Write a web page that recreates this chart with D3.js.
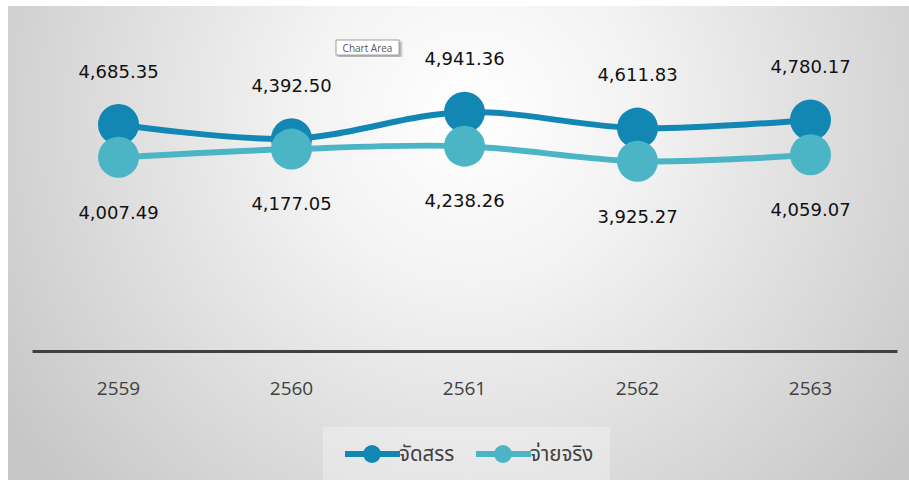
<!DOCTYPE html>
<meta charset="utf-8">
<style>
  body { margin: 0; background: #fff; }
  .lbl { font: 18px "DejaVu Sans", Tahoma, sans-serif; fill: #111; text-anchor: middle; }
  .tick-lbl { font: 19px "Open Sans", "Noto Sans", sans-serif; fill: #404040; text-anchor: middle; }
  .leg { font: 20.5px "Noto Sans Thai", Tahoma, "Noto Sans", sans-serif; fill: #404040; }
</style>
<svg width="909" height="480"></svg>
<script src="https://cdn.jsdelivr.net/npm/d3@7"></script>
<script>

var years = ["2559", "2560", "2561", "2562", "2563"];
var allocated = [4685.35, 4392.50, 4941.36, 4611.83, 4780.17];
var spent = [4007.49, 4177.05, 4238.26, 3925.27, 4059.07];
var seriesNames = ["จัดสรร", "จ่ายจริง"];
var seriesColors = ["#1287b4", "#4bb5c6"];

var svg = d3.select("svg");

// background gradient
var defs = svg.append("defs");
var grad = defs.append("radialGradient")
    .attr("id", "bg")
    .attr("gradientUnits", "userSpaceOnUse")
    .attr("cx", 470).attr("cy", 115).attr("r", 560);
grad.append("stop").attr("offset", "0").attr("stop-color", "#ffffff");
grad.append("stop").attr("offset", "0.3").attr("stop-color", "#f3f3f3");
grad.append("stop").attr("offset", "1").attr("stop-color", "#c6c6c6");

var shadow = defs.append("filter").attr("id", "sh");
shadow.append("feDropShadow").attr("dx", 2).attr("dy", 2).attr("stdDeviation", 1)
    .attr("flood-color", "#000").attr("flood-opacity", 0.35);

svg.append("rect")
    .attr("x", 8).attr("y", 6).attr("width", 901).attr("height", 474)
    .attr("fill", "url(#bg)");

var x = d3.scaleBand().domain(years).range([32, 897]).padding(0);
var y = d3.scaleLinear().domain([0, 6000]).range([351, 61]);
function cx(d) { return x(d) + x.bandwidth() / 2; }

// category axis
var axis = svg.append("g").attr("transform", "translate(0,351)")
    .call(d3.axisBottom(x).tickSize(0).tickPadding(0));
axis.select(".domain").attr("stroke", "#404040").attr("stroke-width", 3);
axis.selectAll(".tick text").attr("class", "tick-lbl").attr("font-size", null)
    .attr("font-family", null).attr("fill", null).attr("y", 44).attr("dy", 0);

var series = [allocated, spent];
var line = d3.line()
    .x(function(d, i) { return cx(years[i]); })
    .y(function(d) { return y(d); })
    .curve(d3.curveCatmullRom.alpha(0.5));

series.forEach(function(vals, s) {
    svg.append("path")
        .attr("d", line(vals))
        .attr("fill", "none")
        .attr("stroke", seriesColors[s])
        .attr("stroke-width", 6);
});

series.forEach(function(vals, s) {
    svg.append("g").selectAll("circle")
        .data(vals)
        .enter().append("circle")
        .attr("cx", function(d, i) { return cx(years[i]); })
        .attr("cy", function(d) { return y(d); })
        .attr("r", 20.5)
        .attr("fill", seriesColors[s]);
});

var fmt = d3.format(",.2f");
svg.append("g").selectAll("text")
    .data(allocated)
    .enter().append("text")
    .attr("class", "lbl")
    .attr("x", function(d, i) { return cx(years[i]); })
    .attr("y", function(d) { return y(d) - 53; })
    .attr("dy", "0.35em")
    .text(fmt);

svg.append("g").selectAll("text")
    .data(spent)
    .enter().append("text")
    .attr("class", "lbl")
    .attr("x", function(d, i) { return cx(years[i]); })
    .attr("y", function(d) { return y(d) + 55; })
    .attr("dy", "0.35em")
    .text(fmt);

// legend
var legend = svg.append("g");
legend.append("rect")
    .attr("x", 323).attr("y", 427).attr("width", 287).attr("height", 53)
    .attr("fill", "#fff").attr("fill-opacity", 0.3);
var legX = [345, 476];
seriesNames.forEach(function(name, s) {
    var g = legend.append("g").attr("transform", "translate(" + legX[s] + ",454)");
    g.append("line").attr("x1", 0).attr("x2", 55)
        .attr("stroke", seriesColors[s]).attr("stroke-width", 6);
    g.append("circle").attr("cx", 27).attr("r", 9).attr("fill", seriesColors[s]);
    g.append("text").attr("class", "leg").attr("x", 54).attr("dy", "0.35em").text(name);
});

// chart area tooltip
var tip = svg.append("g").attr("transform", "translate(336,40)");
tip.append("rect").attr("width", 63).attr("height", 15)
    .attr("fill", "#fff").attr("stroke", "#8a8a8a").attr("stroke-width", 0.8)
    .attr("filter", "url(#sh)");
tip.append("text").attr("x", 31.5).attr("y", 11.5)
    .attr("text-anchor", "middle")
    .style("font", "10px 'Open Sans', sans-serif").attr("fill", "#555")
    .text("Chart Area");

</script>
